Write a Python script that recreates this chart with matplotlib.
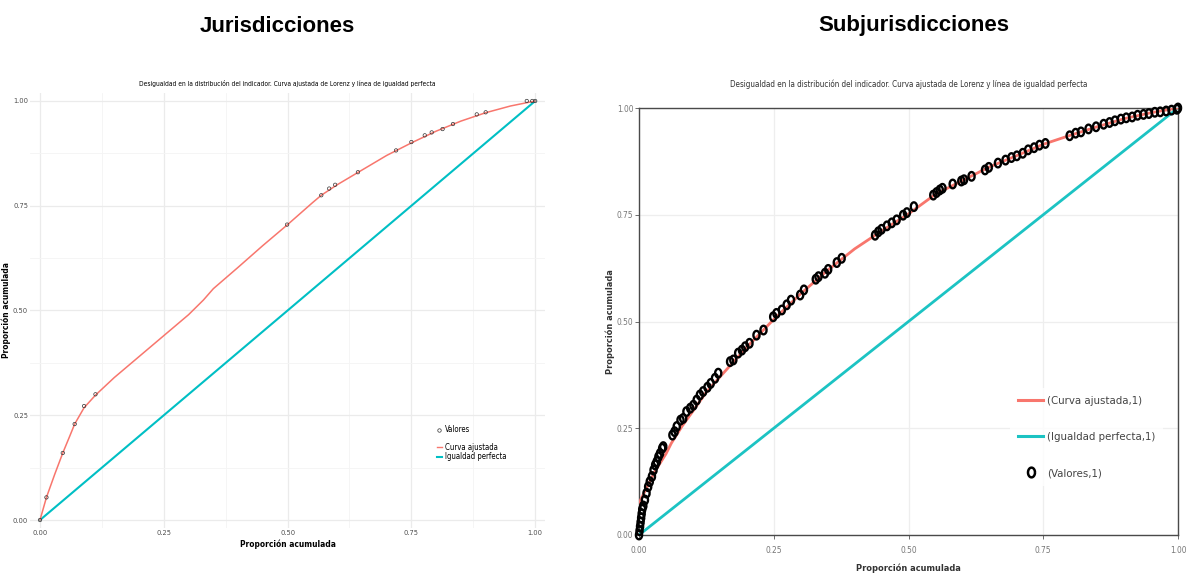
import numpy as np
import matplotlib
matplotlib.use("Agg")
import matplotlib.pyplot as plt
from matplotlib.path import Path
from matplotlib.lines import Line2D
from matplotlib import font_manager
from matplotlib.font_manager import FontProperties

# ---------------- data: Jurisdicciones ----------------
jur_x = [0.0, 0.013, 0.046, 0.070, 0.089, 0.112, 0.499, 0.568, 0.584, 0.596,
         0.642, 0.719, 0.750, 0.777, 0.791, 0.813, 0.834, 0.882, 0.900, 0.983,
         0.994, 1.0]
jur_y = [0.0, 0.054, 0.160, 0.229, 0.272, 0.300, 0.705, 0.775, 0.791, 0.800,
         0.830, 0.882, 0.902, 0.918, 0.925, 0.933, 0.945, 0.968, 0.973, 1.0,
         1.0, 1.0]
jur_curve_x = [0.0, 0.013, 0.03, 0.046, 0.06, 0.07, 0.089, 0.112, 0.15, 0.2,
               0.25, 0.3, 0.33, 0.35, 0.4, 0.45, 0.5, 0.55, 0.568, 0.6, 0.64,
               0.7, 0.75, 0.8, 0.85, 0.9, 0.95, 1.0]
jur_curve_y = [0.0, 0.054, 0.11, 0.16, 0.20, 0.229, 0.268, 0.298, 0.34, 0.39,
               0.44, 0.49, 0.525, 0.552, 0.603, 0.655, 0.705, 0.757, 0.775,
               0.80, 0.828, 0.87, 0.90, 0.928, 0.952, 0.972, 0.988, 1.0]

# ---------------- data: Subjurisdicciones ----------------
sub_x = [0.0, 0.001, 0.002, 0.003, 0.004, 0.005, 0.006, 0.008, 0.011, 0.014,
         0.017, 0.020, 0.024, 0.027, 0.030, 0.033, 0.036, 0.039, 0.043, 0.045,
         0.062, 0.066, 0.070, 0.077, 0.082, 0.088, 0.095, 0.101, 0.107, 0.113,
         0.119, 0.127, 0.133, 0.141, 0.147, 0.169, 0.175, 0.184, 0.191, 0.197,
         0.205, 0.218, 0.231, 0.249, 0.255, 0.265, 0.274, 0.282, 0.299, 0.306,
         0.328, 0.333, 0.345, 0.351, 0.367, 0.376, 0.438, 0.444, 0.450, 0.460,
         0.469, 0.478, 0.490, 0.497, 0.510, 0.546, 0.552, 0.558, 0.563, 0.582,
         0.598, 0.603, 0.617, 0.642, 0.649, 0.666, 0.680, 0.691, 0.701, 0.712,
         0.722, 0.733, 0.743, 0.754, 0.799, 0.810, 0.820, 0.834, 0.848, 0.862,
         0.873, 0.883, 0.894, 0.904, 0.915, 0.925, 0.936, 0.946, 0.957, 0.967,
         0.978, 0.988, 0.998, 1.0]
sub_y = [0.0, 0.010, 0.020, 0.030, 0.040, 0.050, 0.060, 0.068, 0.082, 0.098,
         0.113, 0.125, 0.137, 0.152, 0.164, 0.172, 0.183, 0.191, 0.203, 0.207,
         0.234, 0.242, 0.254, 0.269, 0.273, 0.289, 0.297, 0.304, 0.316, 0.328,
         0.336, 0.346, 0.355, 0.367, 0.379, 0.406, 0.410, 0.426, 0.433, 0.441,
         0.449, 0.468, 0.480, 0.511, 0.519, 0.527, 0.539, 0.550, 0.562, 0.574,
         0.599, 0.605, 0.613, 0.622, 0.638, 0.648, 0.702, 0.710, 0.716, 0.724,
         0.731, 0.738, 0.749, 0.755, 0.769, 0.796, 0.802, 0.808, 0.812, 0.822,
         0.829, 0.832, 0.840, 0.855, 0.861, 0.871, 0.878, 0.884, 0.888, 0.894,
         0.902, 0.907, 0.913, 0.917, 0.935, 0.941, 0.944, 0.951, 0.956, 0.962,
         0.966, 0.970, 0.974, 0.977, 0.979, 0.983, 0.985, 0.987, 0.990, 0.991,
         0.993, 0.995, 0.997, 1.0]
sub_curve_x = [0.0, 0.01, 0.02, 0.03, 0.04, 0.05, 0.06, 0.08, 0.10, 0.125,
               0.15, 0.175, 0.2, 0.25, 0.3, 0.35, 0.4, 0.45, 0.5, 0.55, 0.6,
               0.65, 0.7, 0.75, 0.8, 0.85, 0.9, 0.95, 1.0]
sub_curve_y = [0.075, 0.10, 0.125, 0.15, 0.17, 0.19, 0.215, 0.255, 0.29, 0.335,
               0.37, 0.405, 0.44, 0.505, 0.565, 0.62, 0.67, 0.712, 0.752, 0.798,
               0.83, 0.862, 0.888, 0.915, 0.936, 0.956, 0.975, 0.989, 1.0]
equal_x = [0.0, 1.0]
equal_y = [0.0, 1.0]

ticks = [0.0, 0.25, 0.5, 0.75, 1.0]
tick_labels = ["0.00", "0.25", "0.50", "0.75", "1.00"]

title_small = ("Desigualdad en la distribución del indicador. Curva ajustada de "
               "Lorenz y línea de igualdad perfecta")

SALMON = "#F8766D"
CYAN = "#00BFC4"
CYAN_R = "#1CC3C3"

# ---------------- font selection: prefer a narrow face if present --------
def _find_narrow():
    reg, bold = None, None
    for e in font_manager.fontManager.ttflist:
        nm = e.name.lower()
        if ("narrow" in nm or "condensed" in nm or str(e.stretch) == "condensed") \
                and e.style == "normal" and "mono" not in nm and "serif" not in nm:
            w = e.weight if isinstance(e.weight, int) else (700 if "bold" in str(e.weight) else 400)
            if w == 400 and reg is None:
                reg = e.fname
            elif w == 700 and bold is None:
                bold = e.fname
    return reg, bold


NARROW_REG, NARROW_BOLD = _find_narrow()
SCALE = 1.0 if NARROW_REG else 0.88


def fp(size, bold=False):
    if NARROW_REG:
        if bold and NARROW_BOLD:
            return FontProperties(fname=NARROW_BOLD, size=size)
        return FontProperties(fname=NARROW_REG, size=size,
                              weight="bold" if bold else "normal")
    return FontProperties(family=["Liberation Sans", "DejaVu Sans"],
                          size=size * SCALE, weight="bold" if bold else "normal")


W, H = 1189, 574
fig = plt.figure(figsize=(W / 100, H / 100), dpi=100)
fig.patch.set_facecolor("white")


def fx(px):
    return px / W


def fy(py):
    return 1 - py / H


big = FontProperties(family=["Liberation Sans", "DejaVu Sans"], size=16, weight="bold")
fig.text(fx(277), fy(26), "Jurisdicciones", ha="center", va="center", fontproperties=big)
fig.text(fx(914), fy(26), "Subjurisdicciones", ha="center", va="center", fontproperties=big)

# ---------------- left panel ----------------
axL = fig.add_axes([fx(30.1), fy(528.4), 515 / W, 435.8 / H])
axL.set_xlim(-0.02, 1.02)
axL.set_ylim(-0.02, 1.02)
for s in axL.spines.values():
    s.set_visible(False)
axL.set_xticks(ticks)
axL.set_yticks(ticks)
axL.set_xticklabels(tick_labels, fontproperties=fp(5.3))
axL.set_yticklabels(tick_labels, fontproperties=fp(5.3))
axL.set_xticks([0.125, 0.375, 0.625, 0.875], minor=True)
axL.set_yticks([0.125, 0.375, 0.625, 0.875], minor=True)
axL.tick_params(which="both", length=0, colors="#4D4D4D", pad=1.5)
axL.grid(True, which="major", color="#EBEBEB", lw=0.9)
axL.grid(True, which="minor", color="#F4F4F4", lw=0.6)
axL.set_axisbelow(True)
axL.plot(equal_x, equal_y, color=CYAN, lw=1.5)
axL.plot(jur_curve_x, jur_curve_y, color=SALMON, lw=1.1)
axL.scatter(jur_x, jur_y, s=6, facecolors="none", edgecolors="#333333",
            linewidths=0.5, zorder=5, clip_on=False)
axL.set_xlabel("Proporción acumulada", fontproperties=fp(6.0, True), labelpad=2)
axL.set_ylabel("Proporción acumulada", fontproperties=fp(6.0, True), labelpad=1)
axL.set_title(title_small, fontproperties=fp(4.8), pad=5)

leg_x = (437 - 30.1) / 515
h_val = Line2D([], [], marker="o", ls="none", mfc="none", mec="#333333",
               ms=2.5, mew=0.5)
leg1 = axL.legend([h_val], ["Valores"], loc="center left",
                  bbox_to_anchor=(leg_x, (528.4 - 430) / 435.8),
                  frameon=False, prop=fp(5.6), handlelength=0.6, handletextpad=0.4,
                  borderaxespad=0, borderpad=0)
axL.add_artist(leg1)
h_c = Line2D([], [], color=SALMON, lw=1.0)
h_e = Line2D([], [], color=CYAN, lw=1.5)
axL.legend([h_c, h_e], ["Curva ajustada", "Igualdad perfecta"], loc="center left",
           bbox_to_anchor=(leg_x, (528.4 - 452) / 435.8),
           frameon=False, prop=fp(5.6), handlelength=0.6, handletextpad=0.4,
           labelspacing=0.1, borderaxespad=0, borderpad=0)

# ---------------- right panel ----------------
axR = fig.add_axes([fx(639), fy(535), 539 / W, 427 / H])
axR.set_xlim(0, 1)
axR.set_ylim(0, 1)
for s in axR.spines.values():
    s.set_color("#4A4A4A")
    s.set_linewidth(1.0)
axR.set_xticks(ticks)
axR.set_yticks(ticks)
axR.set_xticklabels(tick_labels, fontproperties=fp(6.0))
axR.set_yticklabels(tick_labels, fontproperties=fp(6.0))
axR.tick_params(length=3, width=0.6, color="#555555", labelcolor="#777777", pad=1)
axR.tick_params(axis="x", pad=5)
axR.grid(True, color="#EEEEEE", lw=0.9)
axR.set_axisbelow(True)
axR.plot(equal_x, equal_y, color=CYAN_R, lw=2.0, zorder=3)
axR.plot(sub_curve_x, sub_curve_y, color=SALMON, lw=2.0, zorder=3)
th = np.linspace(0, 2 * np.pi, 40)
ell = Path(np.column_stack([0.72 * np.cos(th), np.sin(th)]))
axR.scatter(sub_x, sub_y, s=38, marker=ell, facecolors="none",
            edgecolors="black", linewidths=1.7, zorder=4, clip_on=False)
axR.set_xlabel("Proporción acumulada", fontproperties=fp(6.6, True),
               labelpad=6, color="#333333")
axR.set_ylabel("Proporción acumulada", fontproperties=fp(6.6, True),
               labelpad=1, color="#333333")
axR.set_title(title_small, fontproperties=fp(5.8), pad=15, color="#333333")

hr_c = Line2D([], [], color=SALMON, lw=2.2)
hr_e = Line2D([], [], color=CYAN_R, lw=2.2)
hr_v = Line2D([], [], marker=ell, ls="none", mfc="none", mec="black", ms=7, mew=1.8)
legR = axR.legend([hr_c, hr_e, hr_v],
                  ["(Curva ajustada,1)", "(Igualdad perfecta,1)", "(Valores,1)"],
                  loc="center left",
                  bbox_to_anchor=((1010 - 639) / 539, (535 - 437) / 427),
                  frameon=True, prop=fp(8.2), handlelength=2.2, handletextpad=0.35,
                  labelspacing=2.3, borderpad=0.7, borderaxespad=0)
legR.get_frame().set_facecolor("white")
legR.get_frame().set_edgecolor("none")
for t in legR.get_texts():
    t.set_color("#444444")

fig.savefig("out.png", dpi=100)
